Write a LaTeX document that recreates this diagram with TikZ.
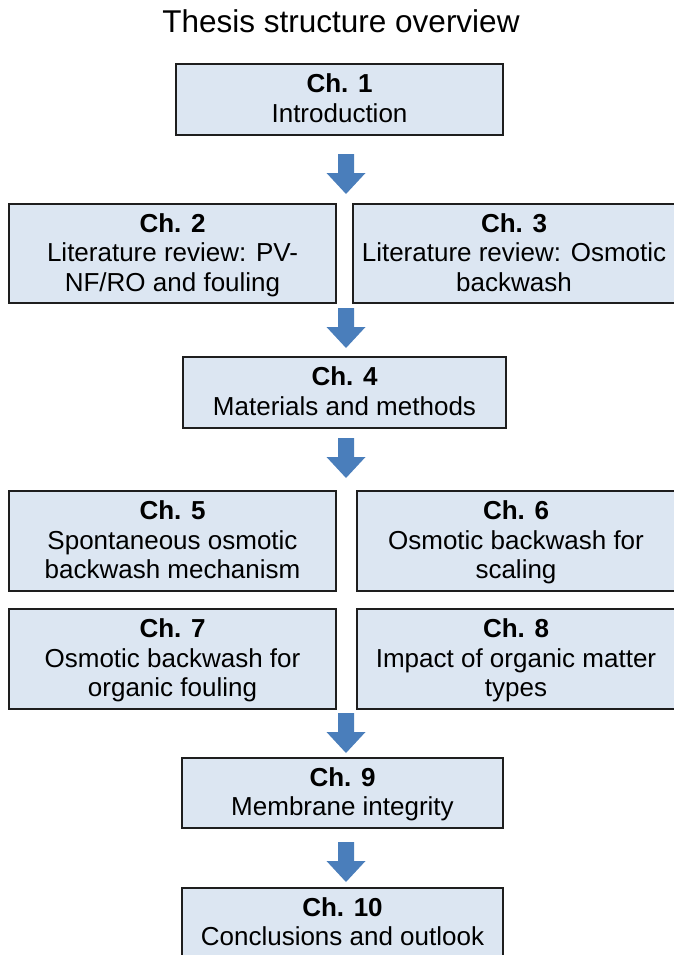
\documentclass[tikz,border=0pt]{standalone}
\usepackage{fontspec}
\setmainfont{Liberation Sans}
\definecolor{boxfill}{HTML}{DCE6F2}
\definecolor{boxline}{HTML}{1E1E1E}
\definecolor{arrowblue}{HTML}{4A7EBB}
\newcommand\chtop{\rule{0pt}{25pt}}
\begin{document}
\begin{tikzpicture}[x=1pt,y=-1pt,
  chbox/.style={draw=boxline, fill=boxfill, line width=1.5pt, inner sep=0pt,
    align=center, font=\fontsize{26}{29.5}\selectfont},
  blockarrow/.pic={\fill[arrowblue] (-8,0) -- (8,0) -- (8,19) -- (19.5,19) -- (0,40) -- (-19.5,19) -- (-8,19) -- cycle;}
]
\useasboundingbox (0,0) rectangle (674,955);
\clip (0,0) rectangle (674,955);

\node[anchor=base, font=\fontsize{31.5}{36}\selectfont] (title) at (341,33) {Thesis structure overview};

\node[chbox, minimum width=327pt, minimum height=71pt] (b1) at (339.5,99.5)
  {\chtop\textbf{Ch. 1}\\Introduction\strut};
\node[chbox, minimum width=327pt, minimum height=99pt] (b2) at (172.5,253.5)
  {\chtop\textbf{Ch. 2}\\Literature review: PV-\\NF/RO and fouling\strut};
\node[chbox, minimum width=322pt, minimum height=99pt] (b3) at (514,253.5)
  {\chtop\textbf{Ch. 3}\\Literature review: Osmotic\\backwash\strut};
\node[chbox, minimum width=323pt, minimum height=71pt] (b4) at (344.5,392.5)
  {\chtop\textbf{Ch. 4}\\Materials and methods\strut};
\node[chbox, minimum width=327pt, minimum height=100pt] (b5) at (172.5,541)
  {\chtop\textbf{Ch. 5}\\Spontaneous osmotic\\backwash mechanism\strut};
\node[chbox, minimum width=318pt, minimum height=100pt] (b6) at (516,541)
  {\chtop\textbf{Ch. 6}\\Osmotic backwash for\\scaling\strut};
\node[chbox, minimum width=327pt, minimum height=100pt] (b7) at (172.5,659)
  {\chtop\textbf{Ch. 7}\\Osmotic backwash for\\organic fouling\strut};
\node[chbox, minimum width=318pt, minimum height=100pt] (b8) at (516,659)
  {\chtop\textbf{Ch. 8}\\Impact of organic matter\\types\strut};
\node[chbox, minimum width=321pt, minimum height=70pt] (b9) at (342.5,793)
  {\chtop\textbf{Ch. 9}\\Membrane integrity\strut};
\node[chbox, minimum width=321pt, minimum height=70pt] (b10) at (342.5,923)
  {\chtop\textbf{Ch. 10}\\Conclusions and outlook\strut};

\coordinate (a1) at (346,154);
\coordinate (a2) at (346,308);
\coordinate (a3) at (346,438);
\coordinate (a4) at (346,713);
\coordinate (a5) at (346,842);
\pic at (a1) {blockarrow};
\pic at (a2) {blockarrow};
\pic at (a3) {blockarrow};
\pic at (a4) {blockarrow};
\pic at (a5) {blockarrow};
\end{tikzpicture}
\end{document}
